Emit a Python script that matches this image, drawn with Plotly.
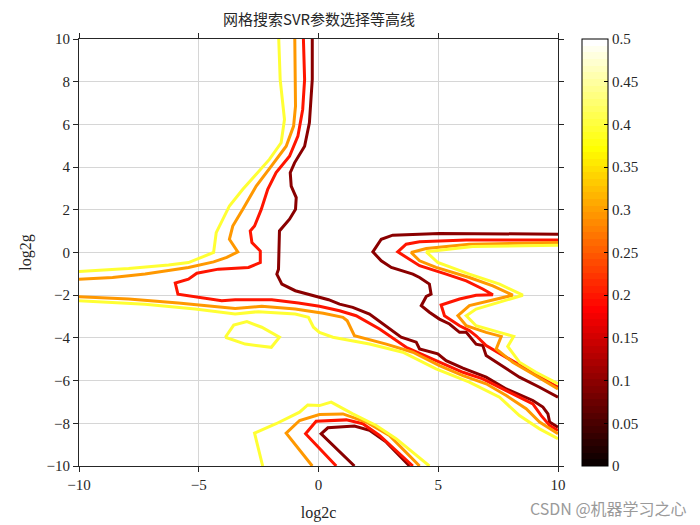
import plotly.graph_objects as go

# ---------------- data (contour lines) ----------------
levels = [0.1, 0.2, 0.3, 0.4]
level_colors = ["#8A0000", "#FF1500", "#FF9800", "#FFFF33"]

# level 0.1 (dark red)
l01_main_x = [-0.26, -0.26, -0.38, -0.58, -1.0, -1.18, -1.14, -0.93, -0.96, -1.21, -1.63, -1.67, -1.74, -1.53, -0.97, -0.28, 0.42, 0.88, 1.43, 2.13, 2.96, 3.45, 4.08, 4.22, 4.98, 5.33, 6.03, 7.0, 7.84, 8.95, 9.37, 9.58, 9.65, 10.0]
l01_main_y = [10.0, 8.1, 6.07, 4.98, 4.2, 3.74, 3.11, 2.57, 2.02, 1.56, 1.01, -0.78, -1.01, -1.48, -1.79, -2.0, -2.21, -2.42, -2.57, -2.88, -3.58, -3.97, -4.2, -4.52, -4.75, -5.07, -5.42, -5.84, -6.39, -6.93, -7.24, -7.56, -7.94, -8.18]
l01_right_x = [10.0, 5.05, 3.1, 2.62, 2.27, 2.62, 3.04, 3.94, 4.22, 4.63, 4.7, 4.5, 4.29, 4.63, 5.05, 5.47, 5.89, 6.17, 6.58, 6.86, 7.0, 7.56, 8.39, 9.23, 10.0]
l01_right_y = [0.86, 0.89, 0.81, 0.62, 0.03, -0.39, -0.7, -1.01, -1.17, -1.48, -1.95, -2.06, -2.49, -2.8, -3.12, -3.35, -3.74, -3.74, -4.29, -4.36, -4.83, -5.22, -5.84, -6.31, -6.78]
l01_bottom_x = [1.5, 0.11, 0.39, 1.5, 2.13, 2.83, 3.8]
l01_bottom_y = [-10.0, -8.49, -8.21, -8.13, -8.33, -8.88, -10.0]

# level 0.2 (red)
l02_main_x = [-0.63, -0.58, -0.66, -0.86, -1.21, -1.77, -2.12, -2.39, -2.67, -2.85, -2.78, -2.43, -2.43, -2.92, -4.18, -5.08, -5.43, -5.98, -5.87, -4.87, -4.04, -3.48, -1.95, -0.84, 0.04, 0.88, 1.57, 2.55, 3.66, 4.91, 6.03, 6.86, 7.84, 8.95, 9.3, 9.65, 10.0]
l02_main_y = [10.0, 8.1, 6.7, 5.45, 4.51, 3.74, 2.96, 2.02, 1.24, 1.01, 0.47, 0.07, -0.47, -0.7, -0.78, -0.97, -1.25, -1.43, -1.95, -2.1, -2.26, -2.21, -2.21, -2.37, -2.52, -2.73, -2.96, -3.58, -4.44, -5.07, -5.61, -5.92, -6.47, -7.09, -7.64, -8.1, -8.34]
l02_right_x = [10.0, 6.17, 4.22, 3.66, 3.31, 3.66, 4.22, 5.33, 6.17, 6.86, 7.28, 6.58, 5.89, 5.12, 5.26, 5.89, 6.3, 6.58, 7.0, 7.84, 8.67, 9.5, 10.0]
l02_right_y = [0.59, 0.59, 0.5, 0.39, 0.03, -0.23, -0.62, -1.01, -1.33, -1.71, -1.98, -2.0, -2.18, -2.46, -2.96, -3.43, -3.66, -3.9, -4.36, -4.91, -5.45, -6.0, -6.31]
l02_bottom_x = [0.74, -0.54, -0.1, 1.16, 1.85, 2.55, 3.94]
l02_bottom_y = [-10.0, -8.49, -7.9, -7.84, -8.02, -8.57, -10.0]

# level 0.3 (orange)
l03_left_x = [-0.99, -0.96, -1.04, -1.35, -1.97, -2.6, -3.16, -3.58, -3.72, -3.37, -3.83, -4.38, -5.43, -7.24, -8.6, -10.0]
l03_left_y = [10.0, 6.85, 5.92, 4.98, 4.05, 3.11, 2.02, 1.24, 0.62, 0.03, -0.23, -0.44, -0.7, -1.01, -1.17, -1.25]
l03_band_x = [-10.0, -7.93, -5.85, -4.46, -3.48, -2.37, -0.97, 0.2, 1.02, 1.2, 1.5, 2.83, 3.94, 5.05, 6.03, 7.0, 7.84, 8.67, 9.23, 10.0]
l03_band_y = [-2.07, -2.18, -2.37, -2.52, -2.62, -2.52, -2.65, -2.85, -3.04, -3.2, -3.9, -4.29, -4.67, -5.3, -5.77, -6.15, -6.7, -7.32, -7.94, -8.49]
l03_right_x = [10.0, 6.3, 4.5, 3.87, 4.22, 4.91, 6.3, 7.28, 8.11, 7.14, 6.3, 5.82, 6.17, 7.0, 7.63, 7.42, 8.11, 8.95, 9.79, 10.0]
l03_right_y = [0.47, 0.39, 0.19, 0.0, -0.39, -0.7, -1.17, -1.56, -2.0, -2.26, -2.49, -2.96, -3.43, -3.74, -3.93, -4.52, -5.14, -5.69, -6.23, -6.39]
l03_bottom_x = [-0.26, -1.35, -0.79, 0.04, 1.02, 1.99, 2.96, 4.22]
l03_bottom_y = [-10.0, -8.46, -7.87, -7.59, -7.56, -7.94, -8.57, -10.0]

# level 0.4 (yellow)
l04_left_x = [-1.66, -1.6, -1.42, -1.56, -2.05, -2.67, -3.16, -3.72, -4.27, -4.38, -4.73, -5.43, -6.26, -7.93, -10.0]
l04_left_y = [10.0, 8.1, 6.23, 5.14, 4.36, 3.58, 2.96, 2.18, 0.93, 0.0, -0.16, -0.47, -0.59, -0.75, -0.89]
l04_band_x = [-10.0, -7.24, -5.15, -3.48, -2.51, -0.97, -0.42, -0.21, 0.04, 0.6, 2.13, 3.52, 4.91, 6.3, 7.56, 8.39, 9.23, 10.0]
l04_band_y = [-2.26, -2.42, -2.65, -2.88, -2.77, -2.88, -3.04, -3.5, -3.74, -3.97, -4.29, -4.67, -5.45, -6.07, -6.78, -7.64, -8.26, -8.72]
l04_loop_x = [-3.89, -3.54, -2.99, -2.37, -1.63, -1.97, -3.06, -3.89]
l04_loop_y = [-3.97, -3.4, -3.24, -3.5, -3.97, -4.44, -4.29, -3.97]
l04_right_x = [10.0, 6.44, 4.5, 4.98, 6.3, 7.56, 8.53, 7.56, 6.58, 6.17, 6.58, 7.56, 8.15, 7.9, 8.39, 9.08, 9.79, 10.0]
l04_right_y = [0.34, 0.28, 0.03, -0.47, -1.01, -1.48, -2.0, -2.34, -2.65, -2.96, -3.43, -3.74, -3.93, -4.4, -5.14, -5.61, -6.0, -6.15]
l04_bottom_x = [-2.33, -2.67, -1.77, -0.79, -0.45, 0.04, 0.53, 1.43, 2.41, 3.24, 4.63]
l04_bottom_y = [-10.0, -8.46, -8.02, -7.48, -7.14, -7.17, -7.01, -7.56, -8.1, -8.72, -10.0]

x_ticks = [-10, -5, 0, 5, 10]
y_ticks = [-10, -8, -6, -4, -2, 0, 2, 4, 6, 8, 10]
cbar_ticks = [0, 0.05, 0.1, 0.15, 0.2, 0.25, 0.3, 0.35, 0.4, 0.45, 0.5]

title_text = "网格搜索SVR参数选择等高线"
xlabel = "log2c"
ylabel = "log2g"
watermark = "CSDN @机器学习之心"

segments = [
    (0, l01_main_x, l01_main_y), (0, l01_right_x, l01_right_y), (0, l01_bottom_x, l01_bottom_y),
    (1, l02_main_x, l02_main_y), (1, l02_right_x, l02_right_y), (1, l02_bottom_x, l02_bottom_y),
    (2, l03_left_x, l03_left_y), (2, l03_band_x, l03_band_y), (2, l03_right_x, l03_right_y), (2, l03_bottom_x, l03_bottom_y),
    (3, l04_left_x, l04_left_y), (3, l04_band_x, l04_band_y), (3, l04_loop_x, l04_loop_y), (3, l04_right_x, l04_right_y), (3, l04_bottom_x, l04_bottom_y),
]

# MATLAB "hot" colormap, 64 steps
def hot_scale(n=64):
    cols = []
    for i in range(n):
        r = min(1.0, (i + 1) / (3 * n / 8))
        g = min(1.0, max(0.0, (i + 1 - 3 * n / 8) / (3 * n / 8)))
        b = min(1.0, max(0.0, (i + 1 - 6 * n / 8) / (2 * n / 8)))
        cols.append("rgb(%d,%d,%d)" % (round(r * 255), round(g * 255), round(b * 255)))
    scale = []
    for i, c in enumerate(cols):
        scale.append([i / n, c])
        scale.append([(i + 1) / n, c])
    return scale

SERIF = "Liberation Serif, Noto Sans CJK SC, serif"

fig = go.Figure()
for lev, xs, ys in segments:
    fig.add_trace(go.Scatter(x=xs, y=ys, mode="lines",
                             line=dict(color=level_colors[lev], width=3),
                             showlegend=False, hoverinfo="skip"))

# colour bar carrier
fig.add_trace(go.Scatter(
    x=[-30, -30], y=[-30, -30], mode="markers", showlegend=False, hoverinfo="skip",
    marker=dict(size=1, color=[0, 0.5], cmin=0, cmax=0.5, colorscale=hot_scale(), showscale=True,
                colorbar=dict(x=1.05, xanchor="left", xref="paper", y=0.5, yanchor="middle",
                              len=1.0, lenmode="fraction", thickness=26, thicknessmode="pixels",
                              outlinecolor="black", outlinewidth=1,
                              tickvals=cbar_ticks, ticktext=[("%g" % v) for v in cbar_ticks],
                              ticks="inside", ticklen=4, tickcolor="black",
                              tickfont=dict(family=SERIF, size=15, color="#262626"),
                              xpad=0, ypad=0))))

axis_common = dict(showline=True, linecolor="#262626", linewidth=1, mirror="ticks",
                   ticks="outside", ticklen=5, tickcolor="#262626", automargin=False,
                   showgrid=True, gridcolor="#d6d6d6", gridwidth=1, zeroline=False,
                   tickfont=dict(family=SERIF, size=15, color="#262626"))

fig.update_xaxes(range=[-10, 10], tickvals=x_ticks, ticktext=[("%d" % v).replace("-", "−") for v in x_ticks],
                 title=dict(text=xlabel, font=dict(family=SERIF, size=16, color="#262626"), standoff=14),
                 **axis_common)
fig.update_yaxes(range=[-10, 10], tickvals=y_ticks, ticktext=[("%d" % v).replace("-", "−") for v in y_ticks],
                 title=dict(text=ylabel, font=dict(family=SERIF, size=16, color="#262626"), standoff=10),
                 **axis_common)

fig.update_layout(
    width=700, height=525,
    margin=dict(l=79, r=142, t=39, b=59),
    paper_bgcolor="white", plot_bgcolor="white",
    title=dict(text=title_text, x=(319 / 700), xanchor="center", y=1 - 20 / 525, yanchor="middle",
               font=dict(family="Noto Sans CJK SC", size=15, color="#262626")),
    annotations=[dict(text=watermark, xref="paper", yref="paper", x=1.273, y=-0.098,
                      xanchor="right", yanchor="middle", showarrow=False,
                      font=dict(family="Noto Sans CJK SC", size=16, color="#9a9a9a"))],
)

# remove the page's default body margin so the figure sits at the window's corner
fig.write_html("out.html", config={"displayModeBar": False},
               post_script="document.body.style.margin='0';")
